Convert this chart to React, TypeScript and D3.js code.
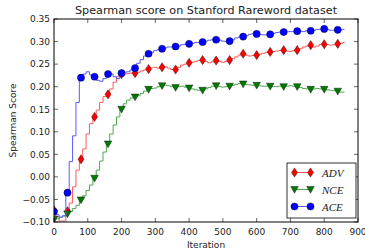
import React from 'react';
import * as d3 from 'd3';

// iterations logged every 10 steps, markers every 40
const iterations = d3.range(0, 861, 10);

const aceScores = [
  -0.077, -0.084, -0.089, -0.086, -0.035, 0.034, 0.091, 0.165, 0.220, 0.228,
  0.233, 0.226, 0.222, 0.214, 0.212, 0.218, 0.228, 0.228, 0.222, 0.218,
  0.230, 0.232, 0.233, 0.237, 0.241, 0.252, 0.260, 0.268, 0.273, 0.276,
  0.280, 0.282, 0.284, 0.286, 0.288, 0.288, 0.289, 0.290, 0.293, 0.294,
  0.295, 0.296, 0.298, 0.298, 0.299, 0.301, 0.303, 0.304, 0.304, 0.303,
  0.301, 0.300, 0.301, 0.304, 0.308, 0.310, 0.311, 0.313, 0.316, 0.317,
  0.317, 0.316, 0.315, 0.315, 0.316, 0.318, 0.320, 0.321, 0.321, 0.322,
  0.322, 0.322, 0.323, 0.323, 0.322, 0.324, 0.324, 0.325, 0.327, 0.327,
  0.328, 0.327, 0.325, 0.325, 0.326, 0.326, 0.327
];

const advScores = [
  -0.074, -0.088, -0.098, -0.098, -0.076, -0.058, -0.022, 0.015, 0.039, 0.062,
  0.095, 0.118, 0.133, 0.148, 0.165, 0.178, 0.183, 0.195, 0.210, 0.222,
  0.228, 0.228, 0.229, 0.230, 0.230, 0.232, 0.235, 0.237, 0.239, 0.242,
  0.243, 0.241, 0.243, 0.244, 0.241, 0.238, 0.238, 0.243, 0.248, 0.250,
  0.253, 0.254, 0.256, 0.258, 0.259, 0.256, 0.253, 0.255, 0.258, 0.256,
  0.254, 0.256, 0.259, 0.262, 0.266, 0.270, 0.273, 0.270, 0.268, 0.269,
  0.270, 0.272, 0.274, 0.276, 0.277, 0.278, 0.279, 0.280, 0.281, 0.279,
  0.278, 0.280, 0.281, 0.284, 0.288, 0.290, 0.292, 0.288, 0.290, 0.294,
  0.294, 0.293, 0.292, 0.293, 0.295, 0.296, 0.298
];

const nceScores = [
  -0.094, -0.093, -0.090, -0.087, -0.082, -0.077, -0.070, -0.063, -0.051, -0.042,
  -0.030, -0.018, -0.003, 0.015, 0.035, 0.055, 0.073, 0.095, 0.115, 0.133,
  0.150, 0.162, 0.170, 0.175, 0.177, 0.180, 0.185, 0.190, 0.194, 0.196,
  0.197, 0.200, 0.202, 0.203, 0.202, 0.200, 0.198, 0.200, 0.201, 0.199,
  0.197, 0.195, 0.193, 0.192, 0.192, 0.195, 0.198, 0.201, 0.202, 0.200,
  0.199, 0.200, 0.201, 0.203, 0.205, 0.207, 0.206, 0.205, 0.204, 0.203,
  0.203, 0.202, 0.201, 0.201, 0.201, 0.200, 0.200, 0.201, 0.200, 0.201,
  0.202, 0.201, 0.200, 0.198, 0.196, 0.195, 0.194, 0.195, 0.196, 0.195,
  0.194, 0.193, 0.192, 0.191, 0.190, 0.188, 0.188
];

const seriesNames = ['ADV', 'NCE', 'ACE'];
const xTicks = [0, 100, 200, 300, 400, 500, 600, 700, 800, 900];
const yTicks = [-0.1, -0.05, 0, 0.05, 0.1, 0.15, 0.2, 0.25, 0.3, 0.35];

const W = 365;
const H = 250;
const left = 54, right = 358, top = 19, bottom = 222;

const fmtY = (v: number) => d3.format('.2f')(v).replace('-', '\u2212');

function markerPath(kind: string, cx: number, cy: number) {
  if (kind === 'diamond') {
    return `M${cx},${cy - 4.6}L${cx + 3},${cy}L${cx},${cy + 4.6}L${cx - 3},${cy}Z`;
  }
  if (kind === 'tri') {
    return `M${cx - 3.8},${cy - 3}L${cx + 3.8},${cy - 3}L${cx},${cy + 3.8}Z`;
  }
  return '';
}

function Marker({ kind, cx, cy, color }: { kind: string; cx: number; cy: number; color: string }) {
  if (kind === 'circle') {
    return <circle cx={cx} cy={cy} r={3.6} fill={color} stroke="#000" strokeWidth={0.4} />;
  }
  return <path d={markerPath(kind, cx, cy)} fill={color} stroke="#000" strokeWidth={0.4} />;
}

export default function App() {
  const x = d3.scaleLinear().domain([0, 900]).range([left, right]);
  const y = d3.scaleLinear().domain([-0.1, 0.35]).range([bottom, top]);

  const line = d3.line<[number, number]>()
    .x(d => x(d[0]))
    .y(d => y(d[1]))
    .curve(d3.curveStep);

  const series = [
    { name: seriesNames[0], values: advScores, color: '#ff0000', lineColor: '#ff5a5a', kind: 'diamond' },
    { name: seriesNames[1], values: nceScores, color: '#007a00', lineColor: '#4ea84e', kind: 'tri' },
    { name: seriesNames[2], values: aceScores, color: '#0000ff', lineColor: '#5a5aff', kind: 'circle' },
  ];

  const font = '"DejaVu Sans", sans-serif';

  return (
    <svg width={W} height={H} style={{ position: 'absolute', left: 0, top: 0, background: '#fff' }}>
      <defs>
        <clipPath id="plot-clip">
          <rect x={left} y={top} width={right - left} height={bottom - top} />
        </clipPath>
      </defs>
      <rect x={0} y={0} width={W} height={H} fill="#fff" />

      <text x={(left + right) / 2} y={14} textAnchor="middle" fontFamily={font} fontSize={11.2} fill="#222">
        Spearman score on Stanford Rareword dataset
      </text>

      <g clipPath="url(#plot-clip)">
        {series.map(s => {
          const pts = iterations.map((it, i) => [it, s.values[i]] as [number, number]);
          return (
            <g key={s.name}>
              <path d={line(pts) || ''} fill="none" stroke={s.lineColor} strokeWidth={1} />
              {pts.filter((_, i) => i % 4 === 0).map(p => (
                <Marker key={p[0]} kind={s.kind} cx={x(p[0])} cy={y(p[1])} color={s.color} />
              ))}
            </g>
          );
        })}
      </g>

      {/* frame and inward ticks */}
      <rect x={left} y={top} width={right - left} height={bottom - top} fill="none" stroke="#000" strokeWidth={1} />
      {xTicks.map(t => (
        <g key={'x' + t}>
          <line x1={x(t)} x2={x(t)} y1={bottom} y2={bottom - 4} stroke="#000" strokeWidth={0.6} />
          <line x1={x(t)} x2={x(t)} y1={top} y2={top + 4} stroke="#000" strokeWidth={0.6} />
          <text x={x(t)} y={bottom + 13} textAnchor="middle" fontFamily={font} fontSize={9} fill="#222">{t}</text>
        </g>
      ))}
      {yTicks.map(t => (
        <g key={'y' + t}>
          <line x1={left} x2={left + 4} y1={y(t)} y2={y(t)} stroke="#000" strokeWidth={0.6} />
          <line x1={right} x2={right - 4} y1={y(t)} y2={y(t)} stroke="#000" strokeWidth={0.6} />
          <text x={left - 4} y={y(t) + 3.3} textAnchor="end" fontFamily={font} fontSize={9} fill="#222">{fmtY(t)}</text>
        </g>
      ))}

      <text x={(left + right) / 2} y={248} textAnchor="middle" fontFamily={font} fontSize={9} fill="#222">Iteration</text>
      <text transform={`translate(16,${(top + bottom) / 2}) rotate(-90)`} textAnchor="middle" fontFamily={font} fontSize={9} fill="#222">
        Spearman Score
      </text>

      {/* legend */}
      <rect x={287} y={163} width={69} height={55} fill="#fff" stroke="#000" strokeWidth={0.8} />
      {series.map((s, i) => {
        const ly = 172.5 + i * 17;
        return (
          <g key={'lg' + s.name}>
            <line x1={294.5} x2={310.5} y1={ly} y2={ly} stroke={s.lineColor} strokeWidth={1} />
            <Marker kind={s.kind} cx={294.5} cy={ly} color={s.color} />
            <Marker kind={s.kind} cx={310.5} cy={ly} color={s.color} />
            <text x={322} y={ly + 4} fontFamily='"Liberation Serif", serif' fontStyle="italic" fontSize={11} fill="#222">{s.name}</text>
          </g>
        );
      })}
    </svg>
  );
}
